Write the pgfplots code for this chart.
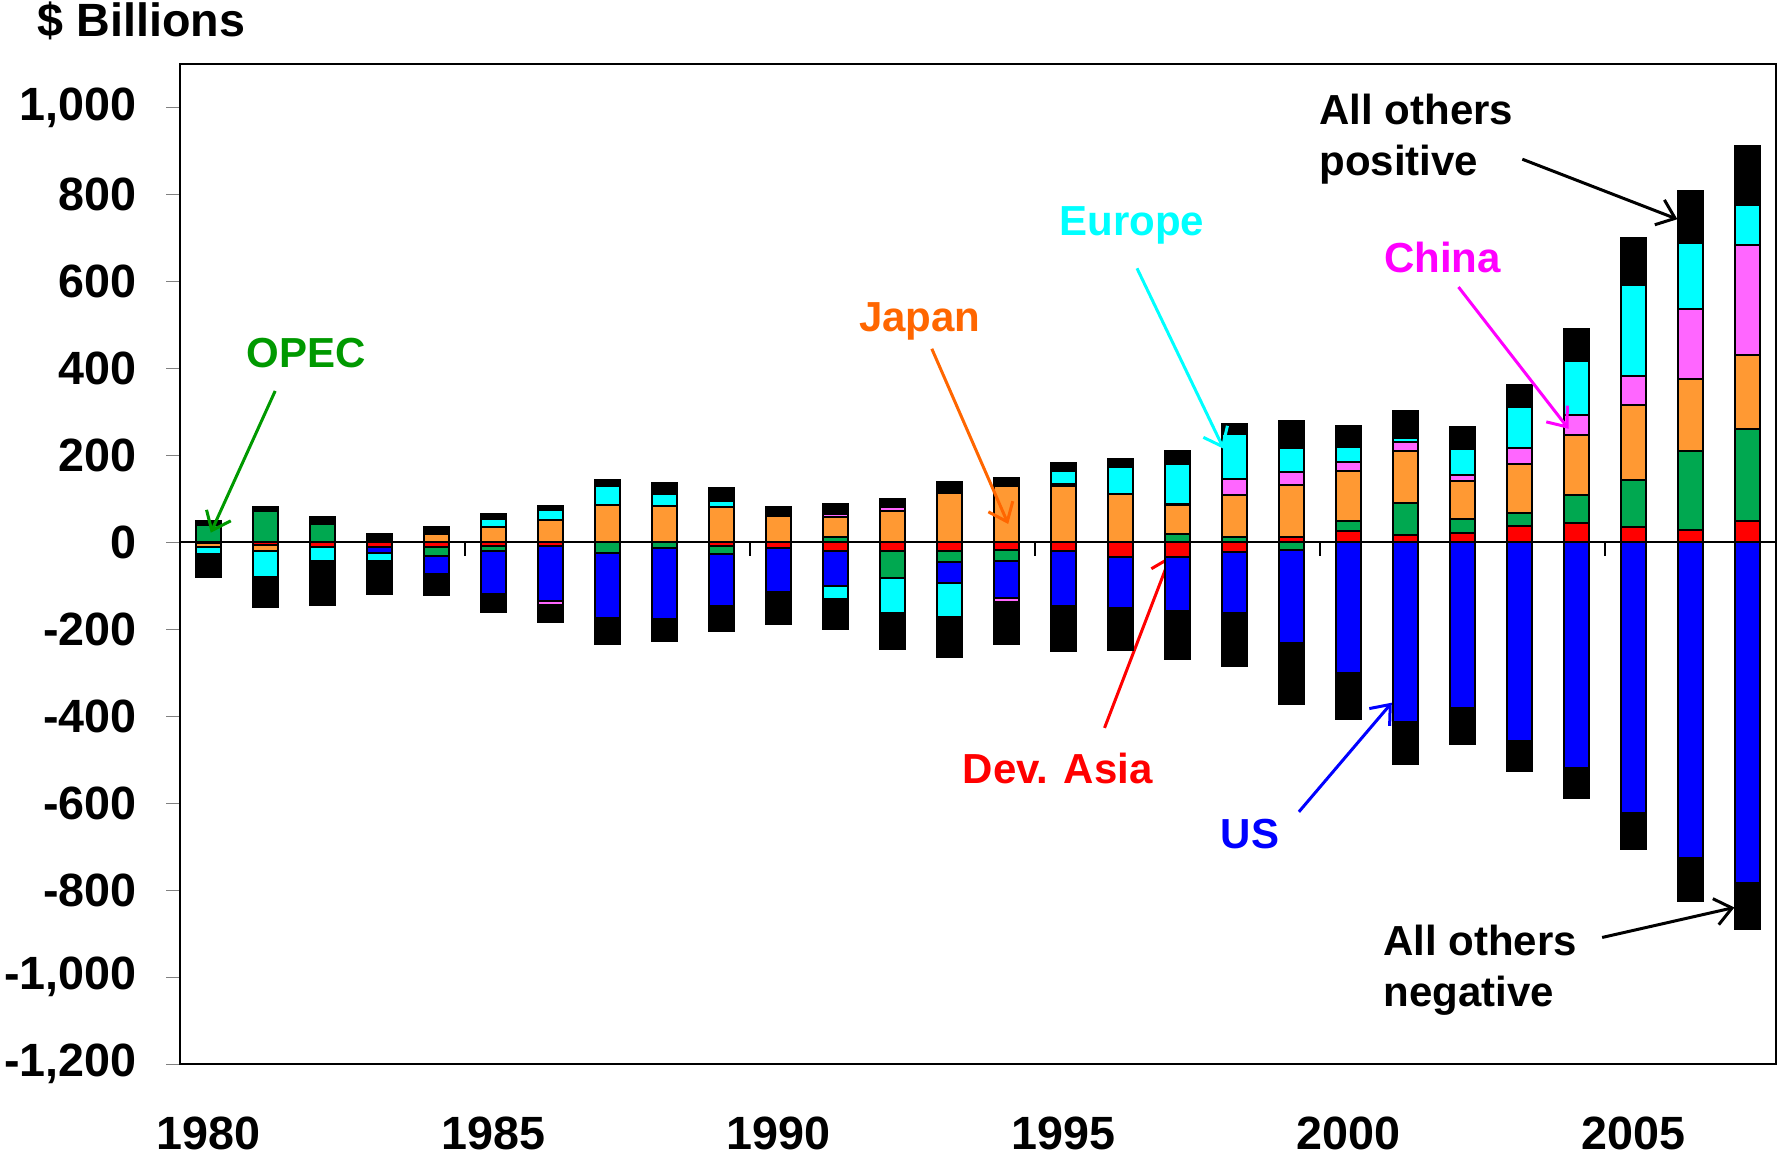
\documentclass[border=0pt]{standalone}
\usepackage{fontspec}
\setmainfont{Liberation Sans}
\usepackage{pgfplots}
\usepackage{pgfplotstable}
\pgfplotsset{compat=1.18}
\usetikzlibrary{arrows.meta}

\definecolor{cAsia}{RGB}{255,0,0}
\definecolor{cOpec}{RGB}{0,168,80}
\definecolor{cJapan}{RGB}{255,153,51}
\definecolor{cUS}{RGB}{0,0,255}
\definecolor{cChina}{RGB}{255,102,255}
\definecolor{cEurope}{RGB}{0,255,255}
\definecolor{tOpec}{RGB}{0,153,0}
\definecolor{tJapan}{RGB}{255,102,0}
\definecolor{tChina}{RGB}{255,0,255}

% positive parts of the balances, $ billions
\pgfplotstableread{
year asia opec japan us china europe other
1980 0 39 0 0 0 0 10
1981 0 72 0 0 0 0 10
1982 0 43 0 0 0 0 14
1983 0 0 4 0 0 0 14
1984 0 0 19 0 0 0 15
1985 0 0 36 0 0 17 11
1986 0 0 51 0 0 23 9
1987 0 0 86 0 0 44 13
1988 0 0 83 0 0 29 25
1989 0 0 80 0 0 16 28
1990 0 0 61 0 0 0 19
1991 0 13 45 0 8 0 21
1992 0 0 72 0 10 0 18
1993 0 0 113 0 3 0 23
1994 0 0 130 0 0 0 17
1995 0 0 130 0 3 30 20
1996 0 0 112 0 0 62 18
1997 0 18 67 0 3 93 28
1998 0 11 97 0 37 105 21
1999 12 0 119 0 31 54 62
2000 25 24 115 0 21 34 48
2001 17 74 119 0 20 9 62
2002 22 31 88 0 13 61 51
2003 37 31 113 0 35 96 50
2004 44 65 137 0 46 125 74
2005 36 107 173 0 67 209 108
2006 29 180 166 0 162 152 119
2007 49 212 170 0 252 92 136
}\pos

% negative parts
\pgfplotstableread{
year asia opec japan us china europe other
1980 -2 0 -9 0 0 -17 -51
1981 -7 0 -12 0 0 -60 -69
1982 -12 0 0 0 0 -30 -102
1983 -12 0 0 -12 0 -20 -75
1984 -10 -21 0 -43 0 0 -48
1985 -8 -12 0 -98 0 0 -42
1986 -8 0 0 -127 -9 0 -40
1987 0 -25 0 -150 0 0 -59
1988 0 -14 0 -162 0 0 -52
1989 -9 -17 0 -121 0 0 -57
1990 -13 0 0 -101 0 0 -74
1991 -21 0 0 -79 0 -31 -69
1992 -21 -62 0 0 0 -80 -82
1993 -19 -26 0 -49 0 -78 -92
1994 -18 -26 0 -84 -9 0 -97
1995 -21 0 0 -125 0 0 -105
1996 -35 0 0 -116 0 0 -97
1997 -35 0 0 -123 0 0 -110
1998 -23 0 0 -139 0 0 -122
1999 0 -18 0 -213 0 0 -140
2000 0 0 0 -300 0 0 -106
2001 0 0 0 -414 0 0 -96
2002 0 0 0 -382 0 0 -81
2003 0 0 0 -457 0 0 -70
2004 0 0 0 -520 0 0 -69
2005 0 0 0 -622 0 0 -84
2006 0 0 0 -726 0 0 -98
2007 0 0 0 -784 0 0 -105
}\neg

\pgfplotsset{
  myax/.style={
    scale only axis, width=478.8pt, height=300pt,
    at={(0,0)}, anchor=south west,
    xmin=1979.5, xmax=2007.5, ymin=-1200, ymax=1100,
    ybar stacked, bar width=7.5pt,
  },
  seg/.style={draw=black, line width=0.6pt, fill=#1},
}

\begin{document}
\begin{tikzpicture}
\path (-54pt,-29.1pt) rectangle (479.7pt,319.2pt);

\begin{axis}[myax,
  axis line style={line width=0.8pt},
  ytick={-1200,-1000,...,1000},
  ytick pos=left, tick align=outside, major tick length=4.2pt,
  xtick={1980,1985,...,2005},
  xticklabels={1980,1985,1990,1995,2000,2005},
  xtick style={draw=none},
  xticklabel style={yshift=-8pt},
  yticklabel style={inner sep=0pt, xshift=-8.6pt},
  tick label style={font=\fontsize{14}{16}\selectfont\bfseries},
  /pgf/number format/.cd, 1000 sep={,}, assume math mode=true,
]
\addplot[seg=cAsia] table[x=year,y=asia]{\pos};
\addplot[seg=cOpec] table[x=year,y=opec]{\pos};
\addplot[seg=cJapan] table[x=year,y=japan]{\pos};
\addplot[seg=cUS] table[x=year,y=us]{\pos};
\addplot[seg=cChina] table[x=year,y=china]{\pos};
\addplot[seg=cEurope] table[x=year,y=europe]{\pos};
\addplot[seg=black] table[x=year,y=other]{\pos};
\draw[line width=0.5pt] (axis cs:1979.5,0) -- (axis cs:2007.5,0);
\draw[line width=0.5pt] (axis cs:1984.5,0) -- ++(0pt,-4.2pt);
\draw[line width=0.5pt] (axis cs:1989.5,0) -- ++(0pt,-4.2pt);
\draw[line width=0.5pt] (axis cs:1994.5,0) -- ++(0pt,-4.2pt);
\draw[line width=0.5pt] (axis cs:1999.5,0) -- ++(0pt,-4.2pt);
\draw[line width=0.5pt] (axis cs:2004.5,0) -- ++(0pt,-4.2pt);
\end{axis}

\begin{axis}[myax, hide axis, clip=false]
\addplot[seg=cAsia] table[x=year,y=asia]{\neg};
\addplot[seg=cOpec] table[x=year,y=opec]{\neg};
\addplot[seg=cJapan] table[x=year,y=japan]{\neg};
\addplot[seg=cUS] table[x=year,y=us]{\neg};
\addplot[seg=cChina] table[x=year,y=china]{\neg};
\addplot[seg=cEurope] table[x=year,y=europe]{\neg};
\addplot[seg=black] table[x=year,y=other]{\neg};

\tikzset{lab/.style={font=\fontsize{12.6}{15.3}\selectfont\bfseries},
         arr/.style={line width=0.9pt, -{Straight Barb[length=5pt,width=8pt]}}}
\node[lab, text=tOpec] at (axis cs:1981.71,435) {OPEC};
\draw[arr, tOpec] (axis cs:1981.17,348) -- (axis cs:1980.04,22);
\node[lab, text=tJapan] at (axis cs:1992.48,509) {Japan};
\draw[arr, tJapan] (axis cs:1992.69,445) -- (axis cs:1994.03,42);
\node[lab, text=cEurope] at (axis cs:1996.20,728) {Europe};
\draw[arr, cEurope] (axis cs:1996.29,630) -- (axis cs:1997.81,215);
\node[lab, text=tChina] at (axis cs:2001.65,654) {China};
\draw[arr, tChina] (axis cs:2001.93,587) -- (axis cs:2003.86,261);
\node[lab, anchor=west, align=left, inner sep=0pt] at (axis cs:1999.48,927) {All others\\positive};
\draw[arr, black] (axis cs:2003.05,881) -- (axis cs:2005.77,743);
\node[lab, text=red] at (axis cs:1994.90,-521) {Dev. Asia};
\draw[arr, red] (axis cs:1995.72,-427) -- (axis cs:1996.88,-31);
\node[lab, text=blue] at (axis cs:1998.27,-671) {US};
\draw[arr, blue] (axis cs:1999.13,-620) -- (axis cs:2000.76,-369);
\node[lab, anchor=west, align=left, inner sep=0pt] at (axis cs:2000.60,-985) {All others\\negative};
\draw[arr, black] (axis cs:2004.45,-909) -- (axis cs:2006.77,-840);
\end{axis}

\node[anchor=west, inner sep=0pt, font=\fontsize{14}{16}\selectfont\bfseries] at (-42.9pt,313pt) {\$ Billions};
\end{tikzpicture}
\end{document}
